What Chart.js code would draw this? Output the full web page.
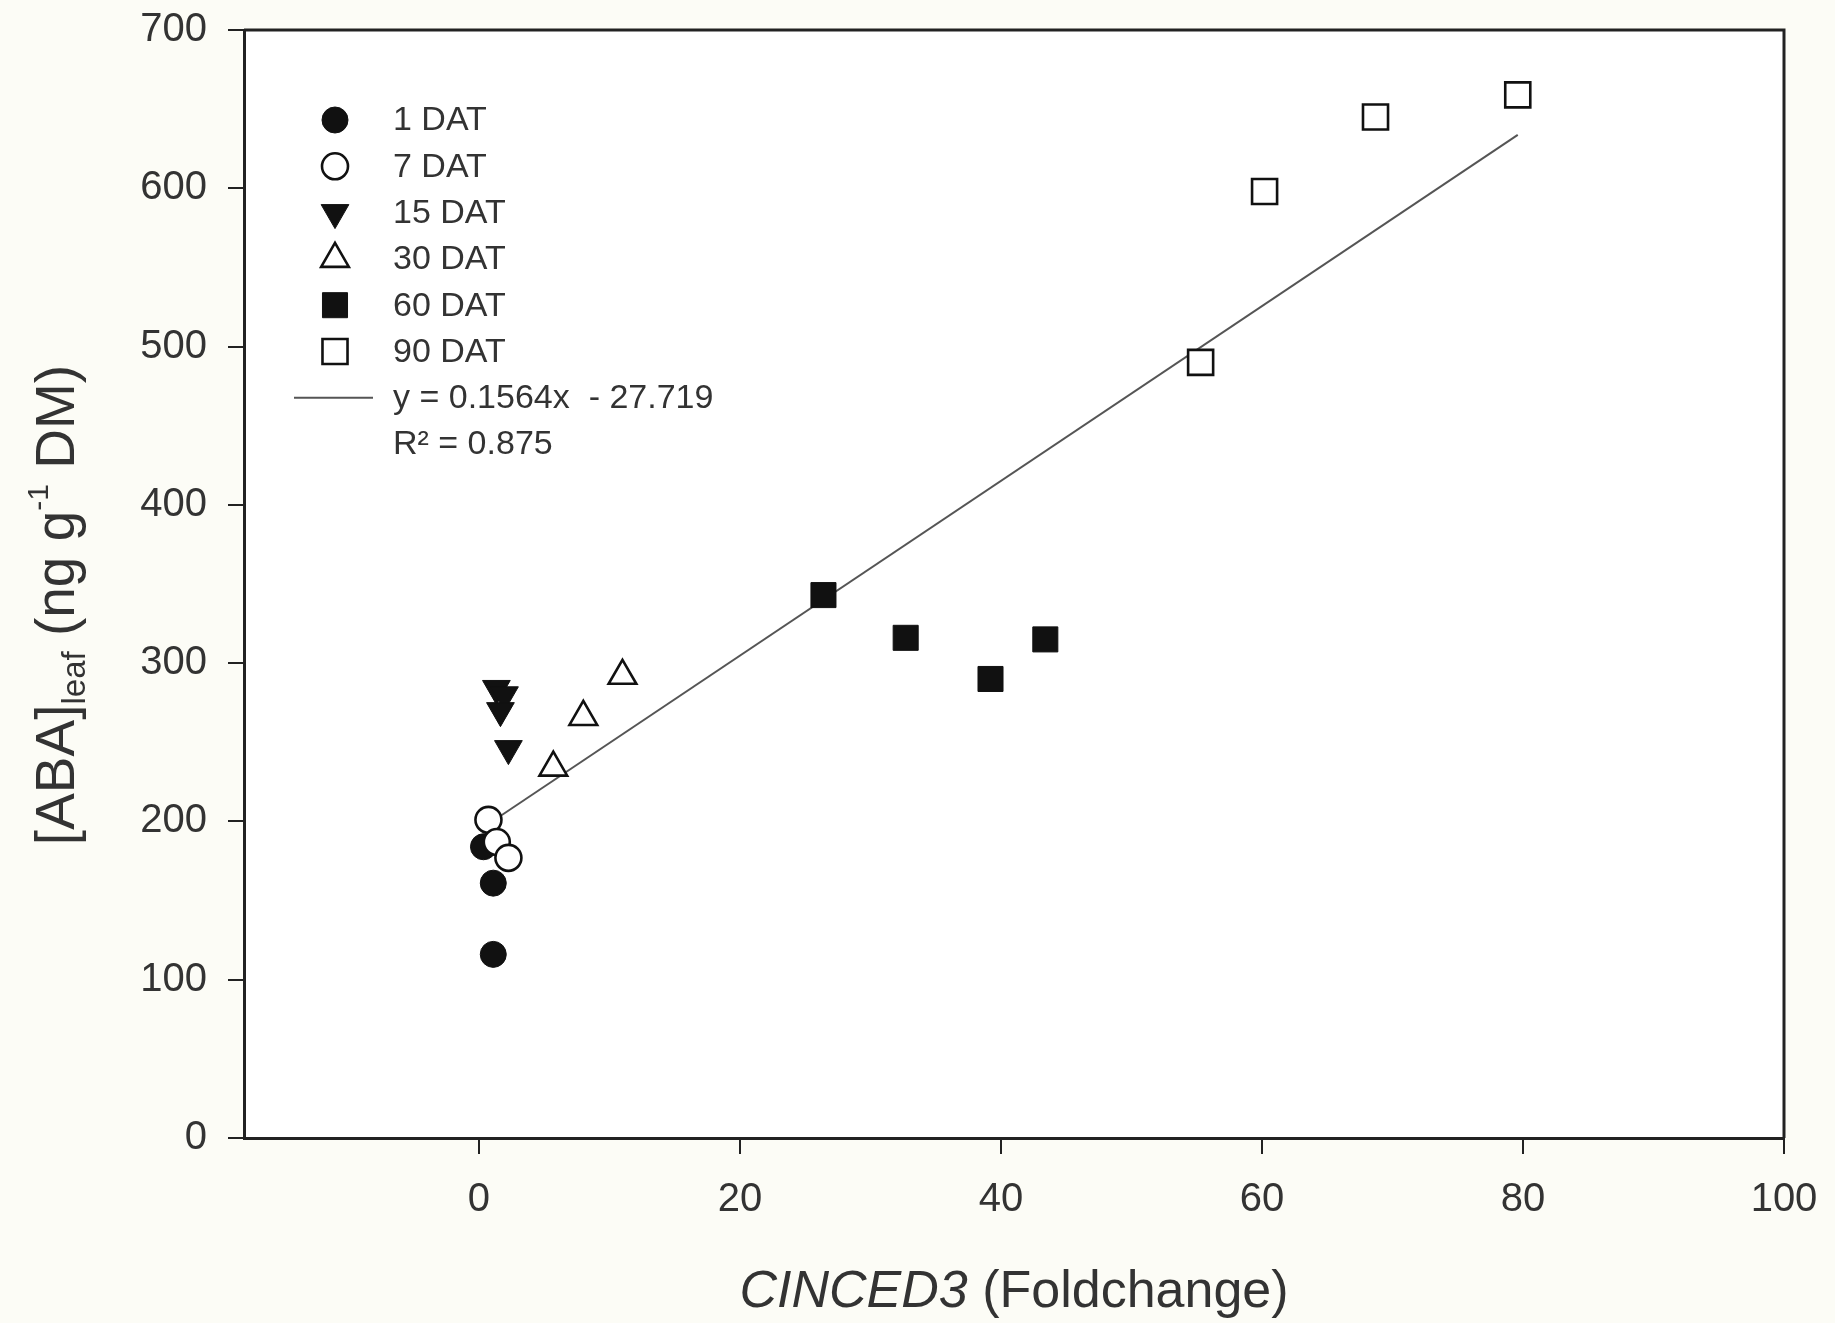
<!DOCTYPE html>
<html>
<head>
<meta charset="utf-8">
<script src="https://cdn.jsdelivr.net/npm/chart.js@4.4.1/dist/chart.umd.min.js"></script>
<style>
html,body{margin:0;padding:0;background:#fcfcf6;}
#wrap{width:1835px;height:1323px;position:relative;}
</style>
</head>
<body>
<div id="wrap"><canvas id="c" width="1835" height="1323"></canvas></div>
<script>
// --- data ---
const xTicks=[0,20,40,60,80,100];
const yTicks=[0,100,200,300,400,500,600,700];
const dat1X=[0.35,1.1,1.1],            dat1Y=[184,161,116];
const dat7X=[0.73,1.37,2.26],          dat7Y=[201,187,177];
const dat15X=[1.34,1.96,1.65,2.26],    dat15Y=[284,280,270,246];
const dat30X=[5.7,8.0,11.0],           dat30Y=[234,266,292];
const dat60X=[26.4,32.7,39.2,43.4],    dat60Y=[343,316,290,315];
const dat90X=[55.3,60.2,68.7,79.6],    dat90Y=[490,598,645,659];
const fitX=[0.73,79.6],                fitY=[198.4,633.7];
const fitText=["y = 0.1564x  - 27.719","R² = 0.875"];

const FF="'Liberation Sans', Arial, sans-serif";
const INK="#111",TXT="#333";
const pts=(xs,ys)=>xs.map((x,i)=>({x,y:ys[i]}));

function mk(label,xs,ys,style,filled,order,extra){
  const r=style==="rect"?17.7:style==="triangle"?16:13;
  return Object.assign({label,data:pts(xs,ys),pointStyle:style,pointRadius:r,pointHoverRadius:r,
    backgroundColor:filled?INK:"#fff",borderColor:INK,borderWidth:filled?1:2.6,order},extra||{});
}

const datasets=[
  mk("1 DAT",dat1X,dat1Y,"circle",true,6),
  mk("7 DAT",dat7X,dat7Y,"circle",false,5),
  mk("15 DAT",dat15X,dat15Y,"triangle",true,4,{pointRotation:180}),
  mk("30 DAT",dat30X,dat30Y,"triangle",false,3),
  mk("60 DAT",dat60X,dat60Y,"rect",true,2),
  mk("90 DAT",dat90X,dat90Y,"rect",false,1),
  {label:"fit",type:"line",data:pts(fitX,fitY),borderColor:"#555",borderWidth:2,pointRadius:0,showLine:true,fill:false,order:10}
];

// background, frame, legend, rich axis titles
const deco={id:"deco",
  beforeDraw(c){
    const {ctx,chartArea:a}=c;
    ctx.save();ctx.fillStyle="#fcfcf6";ctx.fillRect(0,0,c.width,c.height);
    ctx.fillStyle="#fff";ctx.fillRect(a.left,a.top,a.right-a.left,a.bottom-a.top);ctx.restore();
  },
  afterDraw(c){
    const {ctx,chartArea:a}=c;
    ctx.save();
    // top + right of the box
    ctx.strokeStyle="#222";ctx.lineWidth=3;
    ctx.beginPath();ctx.moveTo(a.left,a.top);ctx.lineTo(a.right,a.top);ctx.lineTo(a.right,a.bottom);ctx.stroke();

    // legend
    const lx=335,tx=393,y0=120,dy=46.3;
    ctx.font="34px "+FF;ctx.textBaseline="middle";ctx.textAlign="left";
    datasets.slice(0,6).forEach((d,i)=>{
      const y=y0+i*dy;
      ctx.fillStyle=d.backgroundColor;ctx.strokeStyle=d.borderColor;ctx.lineWidth=d.borderWidth;
      Chart.helpers.drawPoint(ctx,{pointStyle:d.pointStyle,radius:d.pointRadius,rotation:d.pointRotation||0,borderWidth:d.borderWidth},lx,y);
      ctx.fillStyle=TXT;ctx.fillText(d.label,tx,y+1);
    });
    const fy=y0+6*dy;
    ctx.strokeStyle="#555";ctx.lineWidth=2;
    ctx.beginPath();ctx.moveTo(294,fy);ctx.lineTo(373,fy);ctx.stroke();
    ctx.fillStyle=TXT;
    ctx.fillText(fitText[0],tx,fy+1);
    ctx.fillText(fitText[1],tx,fy+dy+1);

    // x title
    const cx=(a.left+a.right)/2,ty=1293;
    ctx.fillStyle=TXT;ctx.textBaseline="middle";
    ctx.font="italic 52px "+FF;const w1=ctx.measureText("CINCED3").width;
    ctx.font="52px "+FF;const w2=ctx.measureText(" (Foldchange)").width;
    let x=cx-(w1+w2)/2;
    ctx.font="italic 52px "+FF;ctx.fillText("CINCED3",x,ty);
    ctx.font="52px "+FF;ctx.fillText(" (Foldchange)",x+w1,ty);

    // y title, rotated
    const parts=[["[ABA]",55,0],["leaf",33,11],[" (ng g",55,0],["-1",30,-26],[" DM)",55,0]];
    ctx.translate(54,(a.top+a.bottom)/2+21);ctx.rotate(-Math.PI/2);
    ctx.textBaseline="alphabetic";
    let tot=0;parts.forEach(p=>{ctx.font=p[1]+"px "+FF;tot+=ctx.measureText(p[0]).width;});
    x=-tot/2;
    parts.forEach(p=>{ctx.font=p[1]+"px "+FF;ctx.fillText(p[0],x,20+p[2]);x+=ctx.measureText(p[0]).width;});
    ctx.restore();
  }
};

const axisCommon={
  grid:{drawOnChartArea:false,drawTicks:true,tickLength:16,color:"#222",lineWidth:2},
  border:{display:true,color:"#222",width:3}
};

new Chart(document.getElementById("c"),{
  type:"scatter",
  data:{datasets},
  options:{
    responsive:false,animation:false,devicePixelRatio:1,
    layout:{padding:{top:30,right:51,left:0,bottom:0}},
    plugins:{legend:{display:false},tooltip:{enabled:false}},
    scales:{
      x:Object.assign({type:"linear",min:-18,max:100,
        afterBuildTicks:s=>{s.ticks=xTicks.map(v=>({value:v}));},
        afterFit:s=>{s.height=185;s.paddingLeft=0;s.paddingRight=0;},
        ticks:{color:TXT,font:{family:FF,size:40},padding:22,maxRotation:0,autoSkip:false}},axisCommon),
      y:Object.assign({type:"linear",min:0,max:700,
        afterBuildTicks:s=>{s.ticks=yTicks.map(v=>({value:v}));},
        afterFit:s=>{s.width=244;s.paddingTop=0;s.paddingBottom=0;},
        ticks:{color:TXT,font:{family:FF,size:40},padding:21,autoSkip:false}},axisCommon)
    }
  },
  plugins:[deco]
});
</script>
</body>
</html>
